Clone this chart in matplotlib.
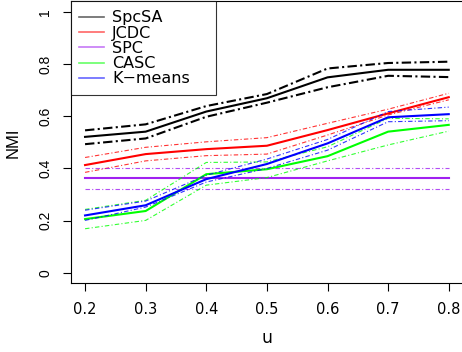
import numpy as np
import matplotlib
matplotlib.use("Agg")
import matplotlib.pyplot as plt
from matplotlib.lines import Line2D

plt.rcParams['font.family'] = ['DejaVu Sans']

# data
u = [0.2, 0.3, 0.4, 0.5, 0.6, 0.7, 0.8]

spcsa = [0.521, 0.541, 0.618, 0.669, 0.749, 0.778, 0.778]
spcsa_hi = [0.546, 0.569, 0.639, 0.685, 0.783, 0.804, 0.809]
spcsa_lo = [0.493, 0.515, 0.598, 0.652, 0.711, 0.755, 0.750]

jcdc = [0.413, 0.455, 0.474, 0.487, 0.547, 0.611, 0.673]
jcdc_hi = [0.442, 0.481, 0.502, 0.518, 0.573, 0.627, 0.688]
jcdc_lo = [0.385, 0.429, 0.449, 0.455, 0.528, 0.605, 0.663]

spc = [0.363, 0.363, 0.363, 0.363, 0.363, 0.363, 0.363]
spc_hi = [0.402, 0.402, 0.402, 0.402, 0.402, 0.402, 0.402]
spc_lo = [0.323, 0.323, 0.323, 0.323, 0.323, 0.323, 0.323]

casc = [0.206, 0.237, 0.378, 0.397, 0.447, 0.541, 0.567]
casc_hi = [0.243, 0.278, 0.423, 0.425, 0.483, 0.592, 0.590]
casc_lo = [0.169, 0.201, 0.336, 0.365, 0.429, 0.490, 0.543]

kmeans = [0.220, 0.259, 0.359, 0.417, 0.496, 0.596, 0.608]
kmeans_hi = [0.240, 0.275, 0.374, 0.436, 0.511, 0.618, 0.635]
kmeans_lo = [0.201, 0.252, 0.348, 0.400, 0.470, 0.579, 0.583]

names = ['SpcSA', 'JCDC', 'SPC', 'CASC', 'K\u2212means']
cols = ['black', '#FF0000', '#A020F0', '#00FF00', '#0000FF']

xlabels = ['0.2', '0.3', '0.4', '0.5', '0.6', '0.7', '0.8']
yticks = [0, 0.2, 0.4, 0.6, 0.8, 1.0]
ylabels = ['0', '0.2', '0.4', '0.6', '0.8', '1']

fig = plt.figure(figsize=(4.62, 3.52), dpi=100)
ax = fig.add_axes([70.5/462, 68.7/352, (463.3-70.5)/462, (350.6-68.7)/352])

series = [(spcsa, spcsa_hi, spcsa_lo), (jcdc, jcdc_hi, jcdc_lo),
          (spc, spc_hi, spc_lo), (casc, casc_hi, casc_lo),
          (kmeans, kmeans_hi, kmeans_lo)]

for i, (m, hi, lo) in enumerate(series):
    c = cols[i]
    if i == 0:
        # black band is drawn thicker
        for b in (hi, lo):
            ax.plot(u, b, color=c, lw=1.5, dashes=(4.5, 1.6, 1.0, 1.6))
    else:
        for b in (hi, lo):
            ax.plot(u, b, color=c, lw=0.8, dashes=(4, 2, 1, 2), alpha=0.8)
    ax.plot(u, m, color=c, lw=1.5)

ax.set_xlim(0.176, 0.824)
ax.set_ylim(-0.04, 1.04)
ax.set_xticks(u)
ax.set_xticklabels(xlabels, fontsize=10.5)
ax.set_yticks(yticks)
ax.set_yticklabels(ylabels, rotation=90, va='center', fontsize=10,
                   family=['Liberation Sans Narrow', 'Liberation Sans'])
ax.tick_params(length=5.5, width=0.8, pad=7.7)
for s in ax.spines.values():
    s.set_linewidth(0.8)
ax.set_xlabel('u', fontsize=12.5, labelpad=9)
ax.set_ylabel('NMI', fontsize=12, labelpad=12.5, family='Liberation Sans')

handles = [Line2D([], [], color=c, lw=1.2, alpha=0.6) for c in cols]
leg = ax.legend(handles, names, loc='upper left', bbox_to_anchor=(0, 0, 0.371, 1),
                mode='expand', fontsize=11.5, frameon=True, fancybox=False,
                borderaxespad=0, handlelength=1.56, handletextpad=0.5,
                labelspacing=0.02, borderpad=0.55)
leg.get_frame().set_edgecolor('black')
leg.get_frame().set_linewidth(0.8)

fig.savefig('out.png', dpi=100)
